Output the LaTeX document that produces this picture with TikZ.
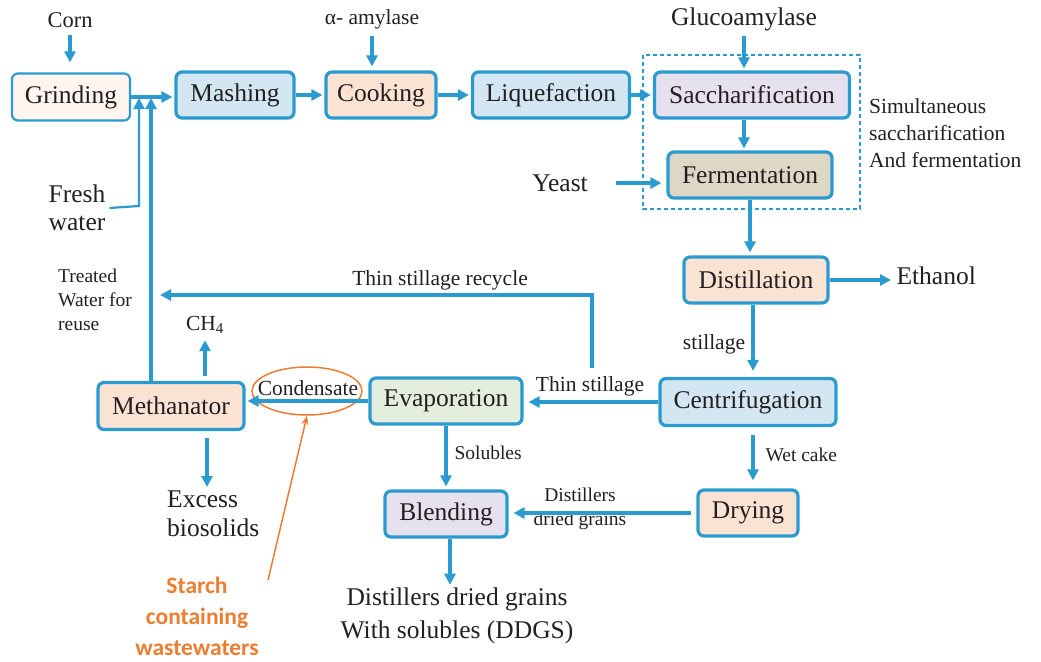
\documentclass[tikz,border=0pt]{standalone}
\usepackage{fontspec}
\setmainfont{Liberation Serif}
\newfontfamily\starchfont{Carlito}
\usetikzlibrary{arrows.meta,shapes.geometric,calc}
\definecolor{flow}{HTML}{2B9AD1}
\definecolor{ink}{HTML}{231F20}
\definecolor{warn}{HTML}{ED7D31}
\definecolor{fillpeach}{HTML}{FBE3D4}
\definecolor{fillpale}{HTML}{FEF5EF}
\definecolor{fillblue}{HTML}{D3E7F3}
\definecolor{filllav}{HTML}{E6E1EE}
\definecolor{filltan}{HTML}{DDD7C5}
\definecolor{fillgreen}{HTML}{E3EFDC}
\begin{document}
\begin{tikzpicture}[x=1pt,y=-1pt,
  every node/.style={text=ink},
  big/.style={font=\fontsize{25.5}{28}\selectfont},
  mid/.style={font=\fontsize{21.5}{27}\selectfont},
  sml/.style={font=\fontsize{19.5}{24}\selectfont},
  stage/.style={big, draw=flow, line width=3.2pt, rounded corners=6pt, inner sep=0pt, minimum height=46pt},
  arr/.style={draw=flow, line width=3.2pt, -{Triangle[length=11pt,width=11pt]}},
  wire/.style={draw=flow, line width=3.2pt}
]
\useasboundingbox (0,0) rectangle (1041,661);

% process stages
\node[stage, fill=fillpale, line width=2.2pt, minimum width=118pt, minimum height=47pt] (grind) at (71,97) {Grinding};
\node[stage, fill=fillblue, minimum width=118pt] (mash) at (235,95) {Mashing};
\node[stage, fill=fillpeach, minimum width=110pt] (cook) at (381,95) {Cooking};
\node[stage, fill=fillblue, minimum width=157pt] (liq) at (551,95) {Liquefaction};
\node[stage, fill=filllav, minimum width=195pt] (sacch) at (752,95) {Saccharification};
\node[stage, fill=filltan, minimum width=164pt] (ferm) at (750,175) {Fermentation};
\node[stage, fill=fillpeach, minimum width=144pt] (dist) at (756,280) {Distillation};
\node[stage, fill=fillblue, minimum width=176pt, minimum height=47pt] (centri) at (748,402) {Centrifugation};
\node[stage, fill=fillpeach, minimum width=100pt] (dry) at (748,513) {Drying};
\node[stage, fill=filllav, minimum width=122pt] (blend) at (446,514) {Blending};
\node[stage, fill=fillgreen, minimum width=152pt] (evap) at (446,401) {Evaporation};
\node[stage, fill=fillpeach, minimum width=146pt, minimum height=47pt] (meth) at (171,406) {Methanator};

% simultaneous saccharification and fermentation
\draw[flow, line width=1.6pt, dash pattern=on 4pt off 3pt] (643,55) rectangle (860,209);
\node[mid, align=left, anchor=north west, inner sep=0pt] (ssf) at (869,98) {Simultaneous\\saccharification\\And fermentation};

% inputs and outputs
\node[font=\fontsize{22.5}{26}\selectfont] (corn) at (70,20) {Corn};
\node[mid] (amyl) at (372,19) {α- amylase};
\node[big] (gluco) at (744,19) {Glucoamylase};
\node[big] (yeast) at (560,183) {Yeast};
\node[big, anchor=west] (eth) at (893,276) {Ethanol};
\node[big, align=center, inner sep=0pt] (fresh) at (77,208) {Fresh\\water};
\node[sml, align=left, anchor=north west, inner sep=0pt] (treated) at (58,269) {Treated\\Water for\\reuse};
\node[mid] (ch4) at (205,325) {CH\textsubscript{4}};
\node[big, font=\fontsize{25.5}{29}\selectfont, align=left, anchor=north west, inner sep=0pt] (excess) at (167,491) {Excess\\biosolids};
\node[big, font=\fontsize{25.5}{33}\selectfont, align=center, inner sep=0pt] (ddgs) at (457,616) {Distillers dried grains\\With solubles (DDGS)};
\node[font=\starchfont\bfseries\fontsize{23.5}{31}\selectfont, text=warn, align=center, inner sep=0pt] (starch) at (197,616) {Starch\\containing\\wastewaters};

% stream labels
\node[mid] (lbrec) at (440,280) {Thin stillage recycle};
\node[mid] (lbstill) at (714,344) {stillage};
\node[mid] (lbthin) at (590,386) {Thin stillage};
\node[sml, anchor=west] (lbwet) at (762,455) {Wet cake};
\node[sml, anchor=west] (lbsol) at (451,453) {Solubles};
\node[sml, align=center, inner sep=0pt] (lbddg) at (580,509) {Distillers\\dried grains};
\node[mid, draw=warn, line width=1.5pt, ellipse, inner sep=0pt, minimum width=110pt, minimum height=48pt] (cond) at (307,391) {};
\node[mid] (condtxt) at (308,388) {Condensate};

% junction points on the water lines
\coordinate (fw) at (139,206);
\coordinate (tw) at (151,0);
\coordinate (rs) at (592,368);
\coordinate (rc) at (592,295);
\coordinate (sa) at (268,580);

% main line
\draw[arr, shorten <=4pt, shorten >=10pt] (corn.south) -- (corn.south |- grind.north);
\draw[arr, shorten >=2pt] (grind.east) -- (grind.east -| mash.west);
\draw[arr, shorten >=2pt] (mash.east) -- (mash.east -| cook.west);
\draw[arr, shorten >=2pt] (cook.east) -- (cook.east -| liq.west);
\draw[arr, shorten >=2pt] (liq.east) -- (liq.east -| sacch.west);
\draw[arr, shorten <=4pt, shorten >=4pt] (amyl.south) -- (amyl.south |- cook.north);
\draw[arr, shorten <=2pt, shorten >=2pt] (gluco.south) -- (gluco.south |- sacch.north);
\draw[arr, shorten >=2pt] (sacch.south -| gluco.south) -- (gluco.south |- ferm.north);
\draw[arr, shorten <=25pt, shorten >=5pt] (yeast.east) -- (yeast.east -| ferm.west);
\draw[arr, shorten >=3pt] (ferm.south) -- (ferm.south |- dist.north);
\draw[arr, shorten >=2pt] (dist.east) -- (dist.east -| eth.west);
\draw[arr, shorten >=6pt] ([xshift=-3pt]dist.south) -- ([xshift=-3pt]dist.south |- centri.north);
\draw[arr, shorten >=5pt] (centri.west) -- (centri.west -| evap.east);
\draw[arr, shorten <=8pt, shorten >=8pt] ([xshift=5pt]centri.south) -- ([xshift=5pt]centri.south |- dry.north);
\draw[arr, shorten <=5pt, shorten >=5pt] (dry.west) -- (dry.west -| blend.east);
\draw[arr, shorten >=3pt] (evap.south) -- (evap.south |- blend.north);
\draw[arr, shorten >=3pt] ([xshift=4pt]blend.south) -- ([xshift=4pt]blend.south |- ddgs.north);
\draw[arr, shorten >=2pt] (evap.west) -- (evap.west -| meth.east);
\draw[arr, shorten <=5pt, shorten >=3pt] (ch4.south |- meth.north) -- (ch4.south);
\draw[arr, shorten <=7pt, shorten >=4pt] ([xshift=40pt]excess.north west |- meth.south) -- ([xshift=40pt]excess.north west);

% water recycle lines
\draw[arr, line width=2.2pt, shorten >=1pt] ([xshift=4pt]fresh.east) -- (fw) -- (fw |- grind.east);
\draw[arr, shorten >=1pt] (tw |- meth.north) -- (tw |- grind.east);
\draw[arr, shorten >=9pt] (rs) -- (rc) -- (rc -| tw);

% wastewater pointer
\draw[warn, line width=1.5pt, -{Stealth[length=9pt,width=7pt]}] (sa) -- (cond.south);
\end{tikzpicture}
\end{document}
